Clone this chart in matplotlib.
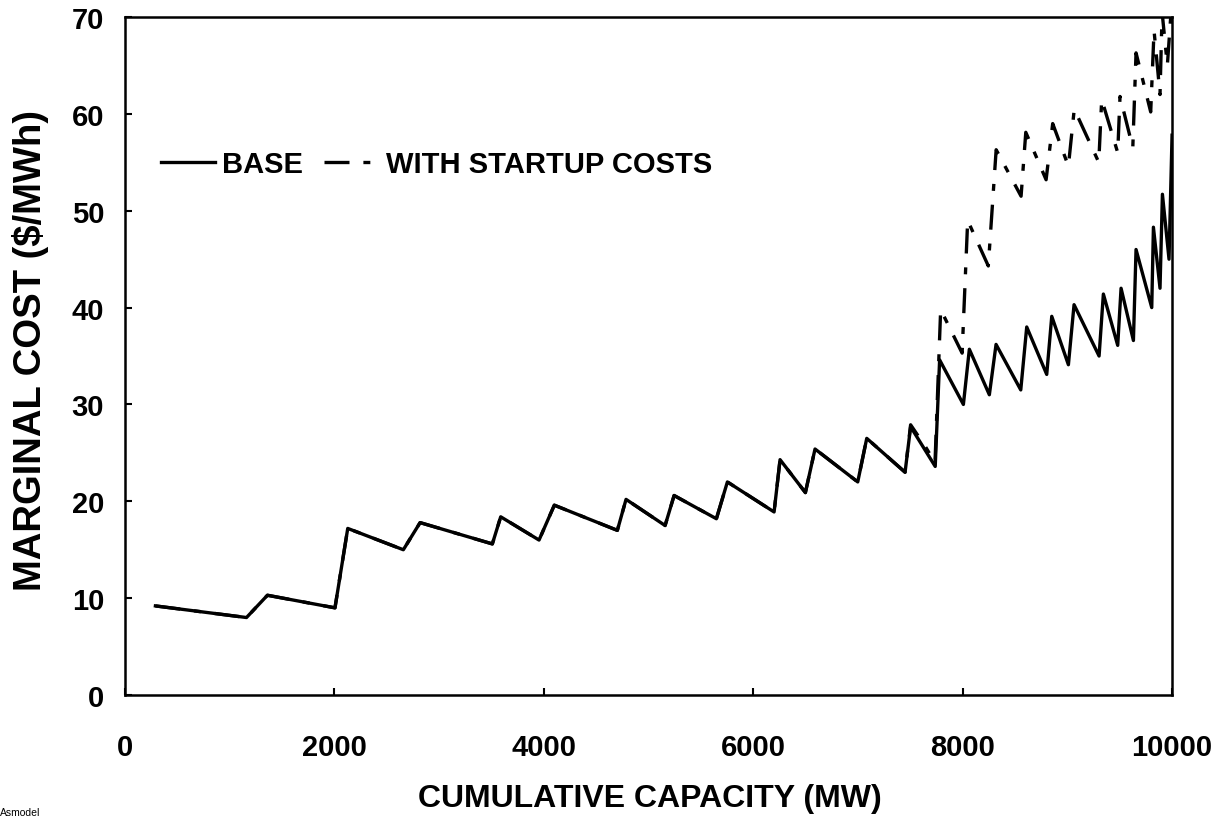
import numpy as np
import matplotlib
matplotlib.use("Agg")
import matplotlib.pyplot as plt

plt.rcParams['font.family'] = ['Liberation Sans', 'DejaVu Sans']
plt.rcParams['font.weight'] = 'bold'
plt.rcParams['lines.scale_dashes'] = False

# base marginal cost curve
base_mw = [290, 1160, 1360, 2005, 2127, 2658, 2818, 3508, 3588, 3954, 4100,
           4702, 4785, 5158, 5244, 5648, 5753, 6199, 6256, 6498, 6590, 6998,
           7084, 7450, 7503, 7738, 7780, 8007, 8064, 8255, 8319, 8555, 8612,
           8803, 8851, 9010, 9064, 9303, 9344, 9481, 9513, 9631, 9656, 9806,
           9822, 9885, 9908, 9971, 10000]
base_cost = [9.2, 8.0, 10.3, 9.0, 17.2, 15.0, 17.8, 15.6, 18.4, 16.0, 19.6,
             17.0, 20.2, 17.5, 20.6, 18.2, 22.0, 18.9, 24.3, 20.9, 25.4, 22.0,
             26.5, 23.0, 27.7, 23.6, 34.6, 30.0, 35.7, 31.0, 36.2, 31.5, 38.0,
             33.1, 39.1, 34.1, 40.3, 35.0, 41.4, 36.1, 42.0, 36.6, 46.0, 40.0,
             48.3, 42.0, 51.7, 45.0, 57.8]

# with startup costs curve
start_mw = [290, 1160, 1360, 2005, 2127, 2658, 2818, 3508, 3588, 3954, 4100,
            4702, 4785, 5158, 5244, 5648, 5753, 6199, 6256, 6498, 6590, 6998,
            7084, 7450, 7503, 7641, 7736, 7790, 7995, 8048, 8245, 8320, 8558,
            8603, 8797, 8860, 9010, 9066, 9300, 9328, 9481, 9503, 9625, 9656,
            9796, 9828, 9885, 9905, 9955, 10000]
start_cost = [9.2, 8.0, 10.3, 9.0, 17.2, 15.0, 17.8, 15.6, 18.4, 16.0, 19.6,
              17.0, 20.2, 17.5, 20.6, 18.2, 22.0, 18.9, 24.3, 20.9, 25.4, 22.0,
              26.5, 23.0, 27.9, 25.7, 24.0, 39.8, 35.3, 49.0, 44.3, 56.3, 51.5,
              58.1, 53.2, 59.0, 54.6, 60.5, 55.0, 61.5, 56.0, 61.8, 56.5, 66.3,
              60.2, 68.6, 62.0, 70.5, 65.0, 72.0]

fig = plt.figure(figsize=(12.2, 8.2), dpi=100)
ax = fig.add_axes([0.1025, 0.1512, 0.8582, 0.8268])

ax.plot(base_mw, base_cost, color='black', lw=2.4, label='BASE')
ax.plot(start_mw, start_cost, color='black', lw=2.4,
        dashes=(18, 10, 5, 10), label='WITH STARTUP COSTS')

ax.set_xlim(0, 10000)
ax.set_ylim(0, 70)
ax.set_xticks(np.arange(0, 10001, 2000))
ax.set_yticks(np.arange(0, 71, 10))
ax.tick_params(axis='both', direction='in', length=5, width=1.5,
               labelsize=21)
ax.tick_params(axis='x', pad=27)
ax.tick_params(axis='y', pad=15)
for s in ax.spines.values():
    s.set_linewidth(1.8)

ax.set_xlabel('CUMULATIVE CAPACITY (MW)', fontsize=23, fontweight='bold')
ax.xaxis.set_label_coords(0.501, -0.13)
ax.set_ylabel('MARGINAL COST (\\$/MWh)', fontsize=27.5, fontweight='bold')
ax.yaxis.set_label_coords(-0.073, 0.51)

ax.legend(loc='upper left', bbox_to_anchor=(0.009, 0.842), ncol=2,
          frameon=False, fontsize=21, handlelength=1.85, handletextpad=0.26,
          columnspacing=0.72)

fig.text(0.0, 0.003, 'Asmodel', fontsize=7.5, fontweight='normal',
         ha='left', va='bottom')

fig.savefig('out.png', dpi=100)
